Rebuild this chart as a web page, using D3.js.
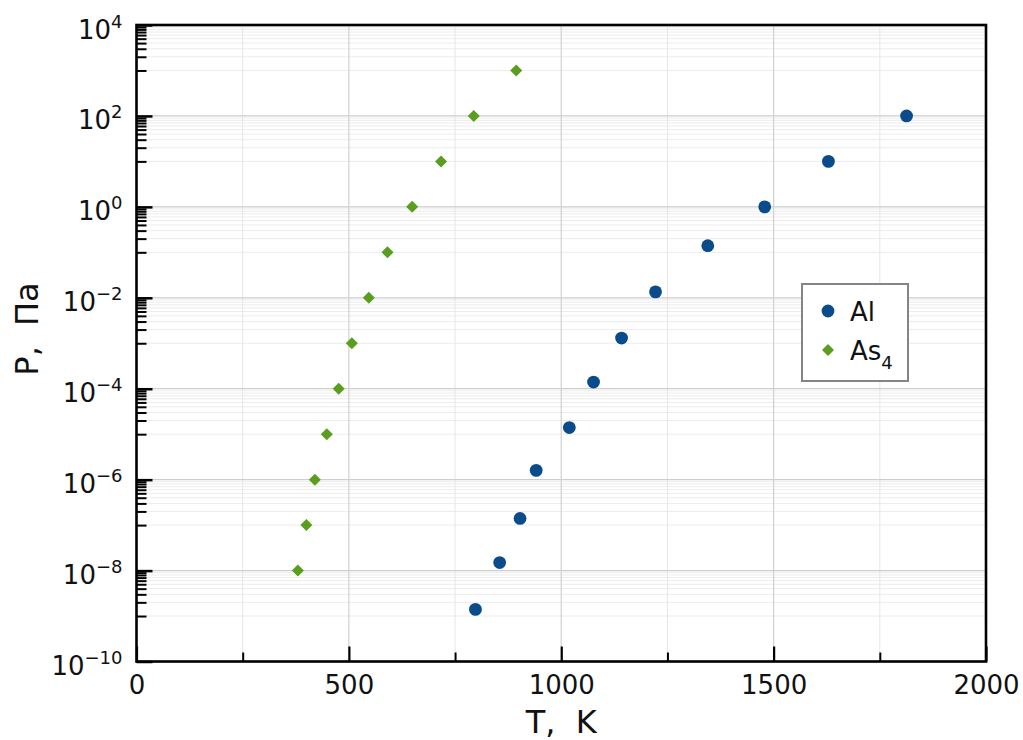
<!DOCTYPE html>
<html>
<head>
<meta charset="utf-8">
<script src="https://cdn.jsdelivr.net/npm/d3@7"></script>
<style>
  html, body { margin: 0; padding: 0; background: #ffffff; }
  svg { display: block; font-family: "DejaVu Sans", sans-serif; }
</style>
</head>
<body>
<svg id="chart" width="1023" height="740"></svg>
<script>
// ---- data ----
const alT = [798, 855, 903, 941, 1019, 1076, 1142, 1222, 1345, 1479, 1629, 1813];
const alP = [1.4e-9, 1.5e-8, 1.4e-7, 1.6e-6, 1.4e-5, 1.4e-4, 1.3e-3, 1.35e-2, 1.4e-1, 1, 10, 100];
const asT = [380, 400, 420, 448, 476, 507, 547, 591, 649, 717, 794, 894];
const asP = [1e-8, 1e-7, 1e-6, 1e-5, 1e-4, 1e-3, 1e-2, 1e-1, 1, 10, 100, 1000];
const xTicks = [0, 500, 1000, 1500, 2000];
const xMinorTicks = [250, 750, 1250, 1750];
const yMajorExp = [-10, -8, -6, -4, -2, 0, 2, 4];
const yMinorExp = [-9, -7, -5, -3, -1, 1, 3];
const seriesNames = ["Al", "As"];
const xLabel = "T, K";
const yLabel = "P, Па";

const L = 136.5, R = 986, T = 25, B = 661.5;
const svg = d3.select("#chart");
const x = d3.scaleLinear().domain([0, 2000]).range([L, R]);
const y = d3.scaleLog().domain([1e-10, 1e4]).range([B, T]);

const yMinorVals = [];
yMinorExp.forEach(e => { for (let k = 1; k <= 9; k++) yMinorVals.push(k * Math.pow(10, e)); });
const yMajorVals = yMajorExp.map(e => Math.pow(10, e));

// ---- grid ----
const grid = svg.append("g");
grid.selectAll("line.ymin").data(yMinorVals).join("line")
  .attr("x1", L).attr("x2", R).attr("y1", d => y(d)).attr("y2", d => y(d))
  .attr("stroke", "#ececec").attr("stroke-width", 1);
grid.selectAll("line.xmin").data(xMinorTicks).join("line")
  .attr("x1", d => x(d)).attr("x2", d => x(d)).attr("y1", T).attr("y2", B)
  .attr("stroke", "#e6e6e6").attr("stroke-width", 1);
grid.selectAll("line.ymaj").data(yMajorVals).join("line")
  .attr("x1", L).attr("x2", R).attr("y1", d => y(d)).attr("y2", d => y(d))
  .attr("stroke", "#cdcdcd").attr("stroke-width", 1.3);
grid.selectAll("line.xmaj").data(xTicks).join("line")
  .attr("x1", d => x(d)).attr("x2", d => x(d)).attr("y1", T).attr("y2", B)
  .attr("stroke", "#d0d0d0").attr("stroke-width", 1.2);

// ---- data points ----
const alColor = "#0a4b8c", asColor = "#5a9e20";
svg.append("g").selectAll("circle").data(alT.map((t, i) => [t, alP[i]])).join("circle")
  .attr("cx", d => x(d[0])).attr("cy", d => y(d[1])).attr("r", 6.4).attr("fill", alColor);
const diamond = d3.symbol().type(d3.symbolDiamond2).size(92);
svg.append("g").selectAll("path").data(asT.map((t, i) => [t, asP[i]])).join("path")
  .attr("d", diamond)
  .attr("transform", d => `translate(${x(d[0])},${y(d[1])})`)
  .attr("fill", asColor);

// ---- axes ----
const axisFont = 26;
const xAxis = svg.append("g").attr("transform", `translate(0,${B})`)
  .call(d3.axisBottom(x).tickValues(xTicks).tickSize(-15).tickPadding(14).tickFormat(d3.format("d")));
const xAxisMinor = svg.append("g").attr("transform", `translate(0,${B})`)
  .call(d3.axisBottom(x).tickValues(xMinorTicks).tickSize(-9).tickFormat(""));
const yAxis = svg.append("g").attr("transform", `translate(${L},0)`)
  .call(d3.axisLeft(y).tickValues(yMajorVals).tickSize(-16).tickPadding(14).tickFormat(""));
const yAxisMinor = svg.append("g").attr("transform", `translate(${L},0)`)
  .call(d3.axisLeft(y).tickValues(yMinorVals).tickSize(-10).tickFormat(""));

[xAxis, xAxisMinor, yAxis, yAxisMinor].forEach(g => {
  g.select(".domain").remove();
  g.selectAll(".tick line").attr("stroke", "#000").attr("stroke-width", 2);
});
xAxis.selectAll(".tick line").attr("stroke-width", 2.2);
yAxis.selectAll(".tick line").attr("stroke-width", 2.5);
xAxis.selectAll(".tick text")
  .attr("font-size", axisFont).attr("fill", "#111").attr("font-family", "DejaVu Sans");

// y tick labels with superscript exponents
yAxis.selectAll(".tick").each(function(d) {
  const e = Math.round(Math.log10(d));
  const t = d3.select(this).select("text");
  t.text(null).attr("x", -14).attr("dy", null).attr("y", 13)
    .attr("text-anchor", "end").attr("font-size", axisFont)
    .attr("fill", "#111").attr("font-family", "DejaVu Sans");
  t.append("tspan").text("10");
  t.append("tspan").attr("dy", -11).attr("font-size", 18)
    .text(e < 0 ? "\u2212" + Math.abs(e) : String(e));
});

// spines
svg.append("rect").attr("x", L).attr("y", T).attr("width", R - L).attr("height", B - T)
  .attr("fill", "none").attr("stroke", "#000").attr("stroke-width", 2.6);

// axis labels
svg.append("text").attr("x", (L + R) / 2).attr("y", 733).attr("text-anchor", "middle")
  .attr("font-size", 32).attr("word-spacing", 10).attr("fill", "#111").text(xLabel);
svg.append("text").attr("transform", "translate(38,329) rotate(-90)").attr("text-anchor", "middle")
  .attr("font-size", 32).attr("word-spacing", 10).attr("fill", "#111").text(yLabel);

// ---- legend ----
const lg = svg.append("g");
lg.append("rect").attr("x", 802).attr("y", 284).attr("width", 106).attr("height", 97)
  .attr("fill", "#fff").attr("stroke", "#858585").attr("stroke-width", 2);
lg.append("circle").attr("cx", 828).attr("cy", 311).attr("r", 6.4).attr("fill", alColor);
lg.append("path").attr("d", diamond).attr("transform", "translate(828,350)").attr("fill", asColor);
lg.append("text").attr("x", 850).attr("y", 321).attr("font-size", 26).attr("fill", "#111").text(seriesNames[0]);
const asText = lg.append("text").attr("x", 850).attr("y", 360).attr("font-size", 26).attr("fill", "#111");
asText.append("tspan").text(seriesNames[1]);
asText.append("tspan").attr("dy", 9).attr("font-size", 18).text("4");
</script>
</body>
</html>
